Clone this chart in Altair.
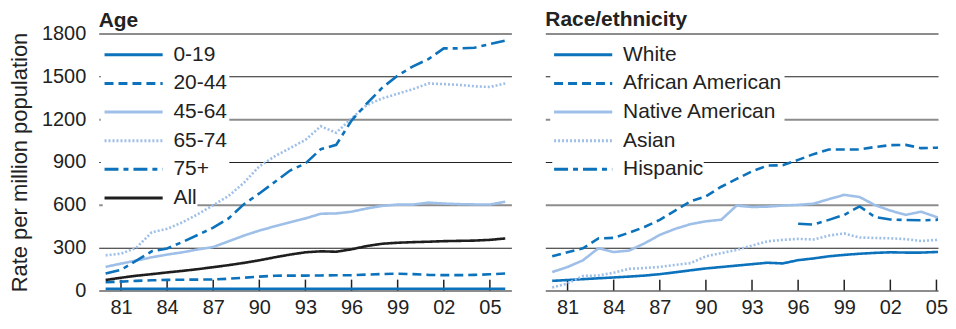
import altair as alt
import pandas as pd

years = list(range(1980, 2007))
tick_years = [1981, 1984, 1987, 1990, 1993, 1996, 1999, 2002, 2005]
y_ticks = [0, 300, 600, 900, 1200, 1500, 1800]

age_series = ["0-19", "20-44", "45-64", "65-74", "75+", "All"]
age_0_19 = [12, 12, 12, 12, 12, 12, 12, 12, 12, 12, 12, 12, 12, 12, 12, 12, 12, 13, 13, 13, 13, 13, 13, 13, 13, 13, 13]
age_20_44 = [58, 63, 68, 72, 75, 76, 77, 78, 83, 90, 98, 104, 105, 105, 106, 107, 108, 112, 116, 118, 115, 110, 108, 108, 110, 114, 120]
age_45_64 = [166, 189, 210, 233, 252, 268, 288, 305, 345, 385, 420, 450, 478, 505, 538, 540, 552, 575, 593, 602, 602, 616, 609, 605, 603, 602, 622]
age_65_74 = [247, 258, 300, 408, 432, 478, 535, 598, 662, 755, 870, 940, 997, 1055, 1150, 1105, 1205, 1300, 1345, 1378, 1410, 1450, 1445, 1440, 1430, 1425, 1450]
age_75p = [120, 145, 210, 275, 295, 340, 390, 440, 505, 605, 680, 760, 840, 890, 990, 1020, 1190, 1310, 1420, 1505, 1570, 1620, 1695, 1695, 1700, 1725, 1750]
age_all = [74, 90, 104, 115, 127, 138, 150, 164, 178, 194, 212, 233, 252, 268, 275, 272, 289, 312, 328, 335, 339, 342, 346, 348, 350, 355, 365]

race_series = ["White", "African American", "Native American", "Asian", "Hispanic"]
race_white = [68, 74, 80, 86, 92, 98, 105, 115, 128, 142, 155, 165, 175, 185, 195, 190, 213, 225, 240, 250, 258, 264, 268, 266, 266, 270, 277]
race_african = [240, 268, 296, 365, 369, 405, 445, 495, 560, 625, 660, 727, 782, 835, 875, 877, 915, 955, 988, 988, 988, 1005, 1018, 1020, 997, 1000, 1008]
race_native = [130, 165, 212, 296, 270, 280, 330, 390, 432, 465, 485, 496, 595, 585, 588, 595, 600, 608, 640, 670, 655, 598, 560, 530, 552, 515, 480]
race_asian = [22, 50, 102, 106, 125, 152, 158, 166, 180, 192, 240, 262, 285, 315, 345, 355, 362, 358, 385, 400, 372, 368, 366, 360, 347, 355, 380]
hispanic_years = list(range(1996, 2007))
race_hispanic = [468, 462, 495, 530, 589, 515, 498, 494, 492, 495, 526]

DARK = "#0b72bb"
LIGHT = "#9ebfe8"
BLACK = "#1e1e1e"
TXT = "#222222"

age_colors = [DARK, DARK, LIGHT, LIGHT, DARK, BLACK]
age_dashes = [[1, 0], [9, 5], [1, 0], [2, 2], [14, 5, 5, 5], [1, 0]]
race_colors = [DARK, DARK, LIGHT, LIGHT, DARK]
race_dashes = [[1, 0], [9, 5], [1, 0], [2, 2], [14, 5, 5, 5]]

def long_df(series_names, arrays, xs_list):
    rows = []
    for name, arr, xs in zip(series_names, arrays, xs_list):
        for yr, v in zip(xs, arr):
            rows.append({"series": name, "year": yr, "value": v})
    return pd.DataFrame(rows)

age_df = long_df(age_series, [age_0_19, age_20_44, age_45_64, age_65_74, age_75p, age_all], [years] * 6)
race_df = long_df(race_series, [race_white, race_african, race_native, race_asian, race_hispanic],
                  [years, years, years, years, hispanic_years])
ticks_df = pd.DataFrame({"year": tick_years})

H = 258
PITCH = 28.7
LABEL_FS = 21
PX_PER_YEAR = 414 / (2006.4 - 1979.55)
grid_test = "datum.value % 600 === 0"
yscale = alt.Scale(domain=[0, 1800], nice=False)
xaxis = alt.Axis(values=tick_years, labelExpr="slice(toString(datum.value), 2)",
                 ticks=False, domain=False, grid=False, labelFontSize=20,
                 labelColor=TXT, labelPadding=7, title=None)


def yaxis(show_y):
    return alt.Axis(values=y_ticks, format="d", ticks=False, domain=False, grid=True,
                    gridColor={"condition": {"test": grid_test, "value": "#8c8c8c"}, "value": TXT},
                    gridWidth={"condition": {"test": grid_test, "value": 2}, "value": 1.2},
                    gridOpacity=1,
                    labels=show_y, labelFontSize=20, labelColor=TXT, labelPadding=13,
                    title="Rate per million population" if show_y else None,
                    titleFontSize=22, titleFontWeight="normal", titleColor=TXT, titlePadding=10)


def line_layer(df, names, cols, dsh, lx, ly, pad, show_y, xscale):
    leg = alt.Legend(orient="none", legendX=lx, legendY=ly, title=None,
                     fillColor="white", padding=pad, symbolType="stroke",
                     symbolSize=3400, symbolStrokeWidth=3, labelFontSize=LABEL_FS,
                     labelColor=TXT, labelOffset=9, clipHeight=18,
                     rowPadding=PITCH - LABEL_FS)
    return alt.Chart(df[df["series"].isin(names)]).mark_line(strokeWidth=2.6, clip=True).encode(
        x=alt.X("year:Q", scale=xscale, axis=xaxis),
        y=alt.Y("value:Q", scale=yscale, axis=yaxis(show_y)),
        color=alt.Color("series:N", scale=alt.Scale(domain=names, range=cols), legend=leg),
        strokeDash=alt.StrokeDash("series:N", scale=alt.Scale(domain=names, range=dsh), legend=leg),
    )


def panel(df, title, series, colors, dashes, sym_x, show_y, title_offset, width):
    xscale = alt.Scale(domain=[1979.55, 1979.55 + width / PX_PER_YEAR], nice=False, zero=False)
    n = len(series)
    first_center = 23
    main = line_layer(df, series[:-1], colors[:-1], dashes[:-1], sym_x - 2,
                      first_center - 2 - LABEL_FS / 2, 2, show_y, xscale)
    last = line_layer(df, series[-1:], colors[-1:], dashes[-1:], sym_x,
                      first_center + (n - 1) * PITCH - LABEL_FS / 2, 0, show_y, xscale)
    ticks = alt.Chart(ticks_df).mark_rule(color=TXT, strokeWidth=1.5).encode(
        x=alt.X("year:Q", scale=xscale),
        y=alt.value(H),
        y2=alt.value(H - 11),
    )
    return alt.layer(ticks, main, last).resolve_scale(
        color="independent", strokeDash="independent"
    ).properties(
        width=width, height=H,
        title=alt.TitleParams(title, anchor="start", frame="group", fontSize=21,
                              fontWeight="bold", color=TXT, offset=title_offset),
    )


left = panel(age_df, "Age", age_series, age_colors, age_dashes, 4, True, -8, 414)
right = panel(race_df, "Race/ethnicity", race_series, race_colors, race_dashes, 7, False, 3, 394)

chart = alt.hconcat(left, right, spacing=34).resolve_scale(
    color="independent", strokeDash="independent"
).properties(
    padding={"left": 0, "top": 1, "right": 0, "bottom": 0}
).configure(
    font="Liberation Sans"
).configure_view(stroke=None)

chart.save("out.html", embed_options={"renderer": "svg", "actions": False})
